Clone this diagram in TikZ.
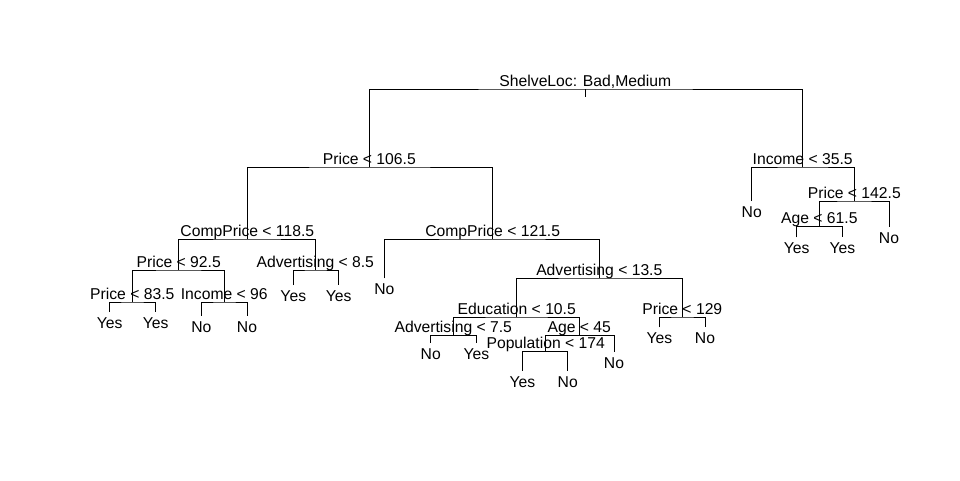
\documentclass[tikz,border=0pt]{standalone}
\usepackage{fontspec}
\setmainfont{Liberation Sans}
\newcommand{\fs}{\fontsize{15.7}{18}\selectfont}
\begin{document}
\begin{tikzpicture}[x=1pt,y=-1pt,
  edge/.style={draw, line width=0.9pt},
  split/.style={anchor=base, inner sep=0pt, font=\fs},
  leaf/.style={anchor=base, inner sep=0pt, font=\fs}]
\useasboundingbox (0,0) rectangle (960,480);
% internal nodes
\coordinate (n1) at (585.3,89);
\coordinate (n2) at (369.3,167);
\coordinate (n3) at (802.7,167);
\coordinate (n4) at (247.3,239);
\coordinate (n5) at (492.7,239);
\coordinate (n6) at (178.7,270);
\coordinate (n7) at (315.3,270);
\coordinate (n8) at (132.3,302);
\coordinate (n9) at (224.3,302);
\coordinate (n10) at (599.3,278);
\coordinate (n11) at (516.7,317);
\coordinate (n12) at (682.3,317);
\coordinate (n13) at (453.3,335.3);
\coordinate (n14) at (579.3,335.3);
\coordinate (n15) at (545.7,351.3);
\coordinate (n16) at (854.3,201);
\coordinate (n17) at (819.3,226.3);
% leaves
\coordinate (l1) at (109.7,311.7);
\coordinate (l2) at (155.7,311.7);
\coordinate (l3) at (201.3,315.7);
\coordinate (l4) at (247,315.7);
\coordinate (l5) at (293.3,285);
\coordinate (l6) at (338.7,285);
\coordinate (l7) at (384.3,278.3);
\coordinate (l8) at (659.3,327.3);
\coordinate (l9) at (705,327.3);
\coordinate (l10) at (430.7,342.7);
\coordinate (l11) at (476.3,342.7);
\coordinate (l12) at (614,352);
\coordinate (l13) at (522.3,370.7);
\coordinate (l14) at (567.7,370.7);
\coordinate (l15) at (751.7,201);
\coordinate (l16) at (889,227);
\coordinate (l17) at (796.7,237.3);
\coordinate (l18) at (842.3,237.3);
% edges
\draw[edge] (n1) -- ++(0,8);
\draw[edge] (n2) |- (n1) -| (n3);
\draw[edge] (n4) |- (n2) -| (n5);
\draw[edge] (n6) |- (n4) -| (n7);
\draw[edge] (n8) |- (n6) -| (n9);
\draw[edge] (l1) |- (n8) -| (l2);
\draw[edge] (l3) |- (n9) -| (l4);
\draw[edge] (l5) |- (n7) -| (l6);
\draw[edge] (l7) |- (n5) -| (n10);
\draw[edge] (n11) |- (n10) -| (n12);
\draw[edge] (l8) |- (n12) -| (l9);
\draw[edge] (n13) |- (n11) -| (n14);
\draw[edge] (l10) |- (n13) -| (l11);
\draw[edge] (n15) |- (n14) -| (l12);
\draw[edge] (l13) |- (n15) -| (l14);
\draw[edge] (l15) |- (n3) -| (n16);
\draw[edge] (n17) |- (n16) -| (l16);
\draw[edge] (l17) |- (n17) -| (l18);
% split labels
\node[split] (t1) at ([yshift=3pt]n1) {ShelveLoc: Bad,Medium};
\node[split] (t2) at ([yshift=3pt]n2) {Price < 106.5};
\node[split] (t3) at ([yshift=3pt]n3) {Income < 35.5};
\node[split] (t4) at ([yshift=3pt]n4) {CompPrice < 118.5};
\node[split] (t5) at ([yshift=3pt]n5) {CompPrice < 121.5};
\node[split] (t6) at ([yshift=3pt]n6) {Price < 92.5};
\node[split] (t7) at ([yshift=3pt]n7) {Advertising < 8.5};
\node[split] (t8) at ([yshift=3pt]n8) {Price < 83.5};
\node[split] (t9) at ([yshift=3pt]n9) {Income < 96};
\node[split] (t10) at ([yshift=3pt]n10) {Advertising < 13.5};
\node[split] (t11) at ([yshift=3pt]n11) {Education < 10.5};
\node[split] (t12) at ([yshift=3pt]n12) {Price < 129};
\node[split] (t13) at ([yshift=3pt]n13) {Advertising < 7.5};
\node[split] (t14) at ([yshift=3pt]n14) {Age < 45};
\node[split] (t15) at ([yshift=3pt]n15) {Population < 174};
\node[split] (t16) at ([yshift=3pt]n16) {Price < 142.5};
\node[split] (t17) at ([yshift=3pt]n17) {Age < 61.5};
% leaf labels
\node[leaf] (v1) at ([yshift=-16.5pt]l1) {Yes};
\node[leaf] (v2) at ([yshift=-16.5pt]l2) {Yes};
\node[leaf] (v3) at ([yshift=-16.5pt]l3) {No};
\node[leaf] (v4) at ([yshift=-16.5pt]l4) {No};
\node[leaf] (v5) at ([yshift=-16.5pt]l5) {Yes};
\node[leaf] (v6) at ([yshift=-16.5pt]l6) {Yes};
\node[leaf] (v7) at ([yshift=-16.5pt]l7) {No};
\node[leaf] (v8) at ([yshift=-16.5pt]l8) {Yes};
\node[leaf] (v9) at ([yshift=-16.5pt]l9) {No};
\node[leaf] (v10) at ([yshift=-16.5pt]l10) {No};
\node[leaf] (v11) at ([yshift=-16.5pt]l11) {Yes};
\node[leaf] (v12) at ([yshift=-16.5pt]l12) {No};
\node[leaf] (v13) at ([yshift=-16.5pt]l13) {Yes};
\node[leaf] (v14) at ([yshift=-16.5pt]l14) {No};
\node[leaf] (v15) at ([yshift=-16.5pt]l15) {No};
\node[leaf] (v16) at ([yshift=-16.5pt]l16) {No};
\node[leaf] (v17) at ([yshift=-16.5pt]l17) {Yes};
\node[leaf] (v18) at ([yshift=-16.5pt]l18) {Yes};
\end{tikzpicture}
\end{document}
